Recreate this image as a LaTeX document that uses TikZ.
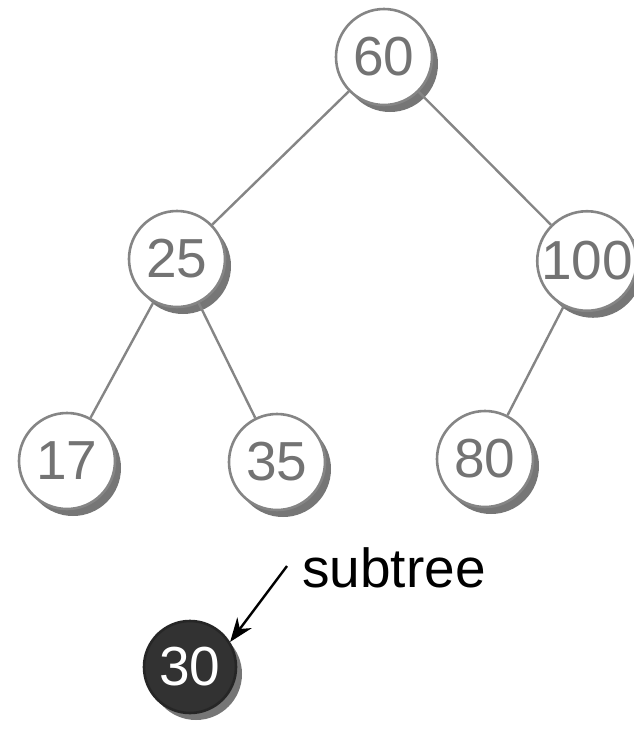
\documentclass[tikz,border=0pt]{standalone}
\usepackage{fontspec}
\setmainfont{Liberation Sans}
\usetikzlibrary{shadows,arrows.meta}
\definecolor{ringgray}{HTML}{858585}
\definecolor{textgray}{HTML}{737373}
\definecolor{shadowgray}{HTML}{767676}
\definecolor{darkfill}{HTML}{323232}
\tikzset{
  treenode/.style={circle, draw=ringgray, line width=2.6pt, fill=white,
    minimum size=96pt, inner sep=0pt, text=textgray,
    font=\fontsize{55}{62}\selectfont,
    drop shadow={shadow xshift=6pt, shadow yshift=-7pt, fill=shadowgray, opacity=1}},
  darknode/.style={treenode, fill=darkfill, draw=black!85, text=white, minimum size=92pt},
  edge/.style={draw=ringgray, line width=2.4pt},
  pointer/.style={draw=black, line width=2.4pt, -{Stealth[length=24pt,width=18pt]}},
  label/.style={font=\fontsize{55}{62}\selectfont, text=black, inner sep=0pt}
}
\begin{document}
\begin{tikzpicture}[x=1pt,y=-1pt]
\useasboundingbox (0,0) rectangle (634,732);
\node[treenode] (n60) at (384,57) {60};
\node[treenode] (n25) at (177,259) {25};
\node[treenode] (n100) at (587,261) {100};
\node[treenode] (n17) at (67,461) {17};
\node[treenode] (n35) at (277,462) {35};
\node[treenode] (n80) at (485,459) {80};
\node[darknode] (n30) at (190,667) {30};
\draw[edge] (n60) -- (n25);
\draw[edge] (n60) -- (n100);
\draw[edge] (n25) -- (n17);
\draw[edge] (n25) -- (n35);
\draw[edge] (n100) -- (n80);
\node[label, anchor=base west] (lbl) at (302,587) {subtree};
\coordinate (ps) at (287,566);
\draw[pointer] (ps) -- (n30.32);
\end{tikzpicture}
\end{document}
